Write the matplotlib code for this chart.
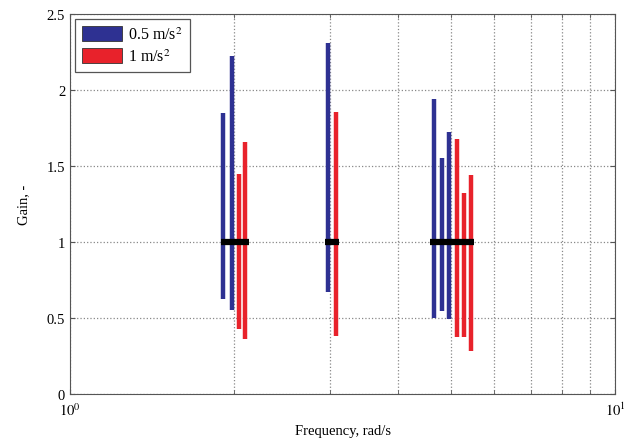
import matplotlib
matplotlib.use("Agg")
import matplotlib.pyplot as plt
from matplotlib.patches import Patch
from matplotlib.ticker import FixedLocator, LogLocator, NullFormatter

plt.rcParams['font.family'] = ['Liberation Serif', 'DejaVu Serif']
plt.rcParams['mathtext.fontset'] = 'stix'

# gain ranges per test frequency, 0.5 m/s^2 excitation
blue_freq = [1.91, 1.98, 2.975, 4.65, 4.815, 4.96]
blue_top = [1.85, 2.22, 2.31, 1.94, 1.55, 1.72]
blue_bot = [0.625, 0.555, 0.67, 0.50, 0.545, 0.49]

# gain ranges per test frequency, 1 m/s^2 excitation
red_freq = [2.04, 2.095, 3.075, 5.13, 5.28, 5.44]
red_top = [1.45, 1.66, 1.855, 1.68, 1.32, 1.44]
red_bot = [0.43, 0.36, 0.38, 0.375, 0.375, 0.28]

# unity gain reference segments
seg_lo = [1.89, 2.93, 4.58]
seg_hi = [2.13, 3.12, 5.51]
seg_y = [1, 1, 1]

blue = '#2E3192'
red = '#E8222B'

fig = plt.figure(figsize=(6.28, 4.39), dpi=100)
ax = fig.add_axes([0.1115, 0.1002, 0.868, 0.866])

ax.vlines(blue_freq, blue_bot, blue_top, colors=blue, linewidth=3.2, zorder=3)
ax.vlines(red_freq, red_bot, red_top, colors=red, linewidth=3.2, zorder=3)
ax.hlines(seg_y, seg_lo, seg_hi, colors='black', linewidth=4.5, zorder=4)

ax.set_xscale('log')
ax.set_xlim(1, 10)
ax.set_ylim(0, 2.5)
ax.xaxis.set_major_locator(FixedLocator([1, 10]))
ax.xaxis.set_minor_locator(LogLocator(base=10, subs=range(2, 10)))
ax.xaxis.set_minor_formatter(NullFormatter())
ax.set_xticklabels(['$10^0$', '$10^1$'])
ax.set_yticks([0, 0.5, 1, 1.5, 2, 2.5])
ax.set_yticklabels(['0', '0.5', '1', '1.5', '2', '2.5'])

ax.grid(True, which='both', axis='x', linestyle=':', color='#888888', linewidth=0.9)
ax.grid(True, which='major', axis='y', linestyle=':', color='#888888', linewidth=0.9)
ax.tick_params(which='both', direction='in', top=True, right=True, labelsize=10.5,
               color='#555555')
ax.tick_params(axis='x', pad=5)
ax.tick_params(which='minor', length=3)
for s in ax.spines.values():
    s.set_color('#555555')

ax.set_xlabel('Frequency, rad/s', fontsize=10.5, labelpad=4)
ax.set_ylabel('Gain, -', fontsize=10.5, labelpad=12)

handles = [Patch(facecolor=blue, edgecolor='#333333', linewidth=0.6),
           Patch(facecolor=red, edgecolor='#333333', linewidth=0.6)]
leg = ax.legend(handles, ['0.5 m/s$^2$', '1 m/s$^2$'], loc='upper left',
                fontsize=11.5, handlelength=2.5, handleheight=1.05,
                fancybox=False, framealpha=1, edgecolor='#555555',
                borderaxespad=0.3, borderpad=0.45, handletextpad=0.4,
                labelspacing=0.35)
leg.get_frame().set_linewidth(0.9)

fig.savefig('out.png', dpi=100)
